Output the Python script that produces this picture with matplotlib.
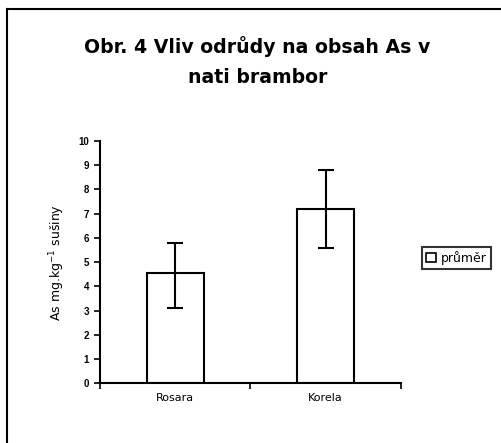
import matplotlib.pyplot as plt
from matplotlib.lines import Line2D
from matplotlib.patches import Patch

# data
odrudy = ["Rosara", "Korela"]
prumer = [4.56, 7.18]
err_dole = [1.44, 1.60]
err_nahore = [1.24, 1.62]

plt.rcParams['font.family'] = ['DejaVu Sans']

fig = plt.figure(figsize=(5.02, 4.43), dpi=100)
ax = fig.add_axes([0.1992, 0.1348, 0.5996, 0.5469])

x = list(range(len(odrudy)))
ax.bar(x, prumer, width=0.38, color='white', edgecolor='black', linewidth=1.5,
       yerr=[err_dole, err_nahore], capsize=6,
       error_kw=dict(elinewidth=1.5, capthick=1.5, ecolor='black'),
       label='průměr')

ax.set_xlim(-0.5, 1.5)
ax.set_ylim(0, 10)
ax.set_yticks(range(0, 11))
ax.set_yticklabels([str(i) for i in range(0, 11)], fontsize=7, family='Liberation Sans',
                   fontweight='bold')
ax.tick_params(axis='y', length=4, width=1.2, direction='out', pad=4)
ax.set_xticks(x)
ax.set_xticklabels(odrudy, fontsize=8)
ax.tick_params(axis='x', length=0, pad=7)
ax.set_xticks([-0.5, 0.5, 1.5], minor=True)
ax.tick_params(axis='x', which='minor', length=4, width=1.2, direction='out')

for s in ['top', 'right']:
    ax.spines[s].set_visible(False)
for s in ['left', 'bottom']:
    ax.spines[s].set_linewidth(1.5)

ax.set_ylabel('As mg.kg$^{-1}$ sušiny', fontsize=9, labelpad=8)

fig.text(0.513, 1 - 53 / 443, 'Obr. 4 Vliv odrůdy na obsah As v', ha='center',
         va='baseline', fontsize=13.6, fontweight='bold')
fig.text(0.513, 1 - 83 / 443, 'nati brambor', ha='center', va='baseline',
         fontsize=13.6, fontweight='bold')

handles = [Patch(facecolor='white', edgecolor='black', linewidth=1.2)]
leg = fig.legend(handles, ['průměr'], loc='center left', bbox_to_anchor=(0.841, 0.418),
                 prop={'size': 9}, frameon=True, fancybox=False, edgecolor='black',
                 handlelength=0.8, handleheight=0.8, handletextpad=0.4,
                 borderpad=0.3, borderaxespad=0)
leg.get_frame().set_linewidth(1.5)

# chart frame border lines
fig.add_artist(Line2D([8 / 502, 1], [1 - 9 / 443, 1 - 9 / 443], color='black', linewidth=1.5,
                      transform=fig.transFigure))
fig.add_artist(Line2D([7 / 502, 7 / 502], [0, 1 - 9 / 443], color='black', linewidth=1.5,
                      transform=fig.transFigure))

fig.savefig('out.png', dpi=100)
